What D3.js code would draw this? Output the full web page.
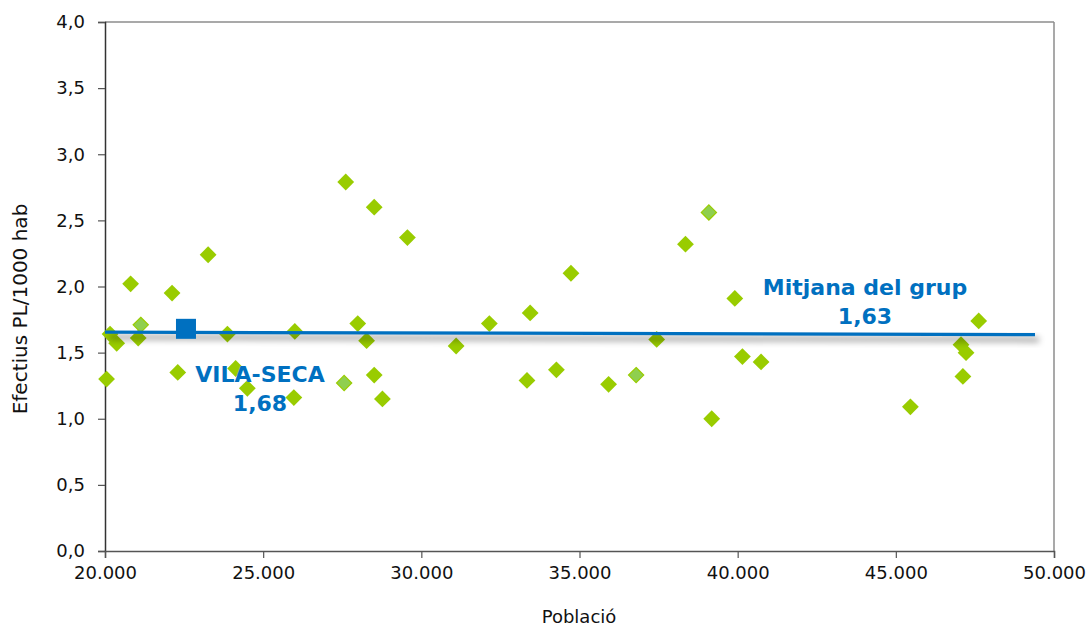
<!DOCTYPE html>
<html>
<head>
<meta charset="utf-8">
<script src="https://cdn.jsdelivr.net/npm/d3@7"></script>
<style>
  html, body { margin: 0; padding: 0; background: #fff; }
  svg { display: block; font-family: "DejaVu Sans", Verdana, sans-serif; }
</style>
</head>
<body>
<svg id="chart" width="1088" height="627"></svg>
<script>
// ---- Data ----
const municipalities = [
  [20050, 1.30], [20160, 1.64], [20370, 1.57], [20810, 2.02], [21050, 1.61],
  [22120, 1.95], [22300, 1.35], [23260, 2.24], [23870, 1.64], [24130, 1.38],
  [24500, 1.23], [26000, 1.66], [25970, 1.16], [27610, 2.79], [27990, 1.72],
  [28270, 1.59], [28510, 2.60], [28510, 1.33], [28770, 1.15], [29560, 2.37],
  [31100, 1.55], [32150, 1.72], [33340, 1.29], [33440, 1.80], [34270, 1.37],
  [34730, 2.10], [35920, 1.26], [37440, 1.60], [38350, 2.32], [39910, 1.91],
  [40150, 1.47], [40740, 1.43], [39180, 1.00], [45460, 1.09], [47060, 1.56],
  [47220, 1.50], [47120, 1.32], [47620, 1.74]
];
const municipalitiesLight = [
  [21130, 1.71], [27560, 1.27], [36790, 1.33], [39090, 2.56]
];
const vilaSeca = [[22560, 1.68]];
const meanLine = [[20000, 1.655], [49400, 1.636]];
const xTicks = [20000, 25000, 30000, 35000, 40000, 45000, 50000];
const yTicks = [0, 0.5, 1.0, 1.5, 2.0, 2.5, 3.0, 3.5, 4.0];
const labels = {
  x: "Població",
  y: "Efectius PL/1000 hab",
  vila: ["VILA-SECA", "1,68"],
  mean: ["Mitjana del grup", "1,63"]
};

// ---- Layout ----
const svg = d3.select("#chart");
const L = 105, R = 1054, T = 22, B = 551;
const x = d3.scaleLinear().domain([20000, 50000]).range([L, R]);
const y = d3.scaleLinear().domain([0, 4]).range([B, T]);

const fmtX = d => d3.format(",")(d).replace(/,/g, ".");
const fmtY = d => d.toFixed(1).replace(".", ",");

// shadow filter
const defs = svg.append("defs");
const f = defs.append("filter").attr("id", "shadow")
  .attr("x", "-5%").attr("y", "-200%").attr("width", "110%").attr("height", "600%");
f.append("feGaussianBlur").attr("stdDeviation", 3);

// plot border (top/right grey)
svg.append("line").attr("x1", L).attr("x2", R).attr("y1", T).attr("y2", T)
  .attr("stroke", "#8c8c8c").attr("stroke-width", 1.5);
svg.append("line").attr("x1", R).attr("x2", R).attr("y1", T).attr("y2", B)
  .attr("stroke", "#8c8c8c").attr("stroke-width", 1.5);

// axes
const yAxis = svg.append("g").attr("transform", `translate(${L},0)`)
  .call(d3.axisLeft(y).tickValues(yTicks).tickFormat(fmtY).tickSize(7).tickPadding(13));
const xAxis = svg.append("g").attr("transform", `translate(0,${B})`)
  .call(d3.axisBottom(x).tickValues(xTicks).tickFormat(fmtX).tickSize(7).tickPadding(8));
[yAxis, xAxis].forEach(g => {
  g.selectAll("text").attr("font-size", 18).attr("fill", "#111")
    .attr("font-family", "DejaVu Sans, Verdana, sans-serif");
  g.select(".domain").attr("stroke", "#333").attr("stroke-width", 1.5);
  g.selectAll(".tick line").attr("stroke", "#555").attr("stroke-width", 1.2);
});
xAxis.select(".domain").attr("stroke", "#555");

// axis titles
svg.append("text").attr("transform", `translate(27,${309}) rotate(-90)`)
  .attr("text-anchor", "middle").attr("font-size", 20).attr("fill", "#111")
  .text(labels.y);
svg.append("text").attr("x", 579).attr("y", 623).attr("text-anchor", "middle")
  .attr("font-size", 18).attr("fill", "#111").text(labels.x);

// diamonds
const dia = h => `M0,${-h}L${h},0L0,${h}L${-h},0Z`;
svg.append("g").selectAll("path").data(municipalities).join("path")
  .attr("d", dia(8.4))
  .attr("transform", d => `translate(${x(d[0])},${y(d[1])})`)
  .attr("fill", "#99cc00");
svg.append("g").selectAll("path").data(municipalitiesLight).join("path")
  .attr("d", dia(7.6))
  .attr("transform", d => `translate(${x(d[0])},${y(d[1])})`)
  .attr("fill", "#8fcf4f").attr("stroke", "#99cc00").attr("stroke-width", 1.2);

// mean line with shadow
const line = d3.line().x(d => x(d[0])).y(d => y(d[1]));
svg.append("path").datum(meanLine).attr("d", line)
  .attr("transform", "translate(4,5)")
  .attr("stroke", "#000").attr("stroke-opacity", 0.35).attr("stroke-width", 5)
  .attr("fill", "none").attr("filter", "url(#shadow)");
svg.append("path").datum(meanLine).attr("d", line)
  .attr("stroke", "#0070c0").attr("stroke-width", 3.2).attr("fill", "none");

// VILA-SECA square
svg.append("g").selectAll("rect").data(vilaSeca).join("rect")
  .attr("x", d => x(d[0]) - 10).attr("y", d => y(d[1]) - 10)
  .attr("width", 20).attr("height", 20).attr("fill", "#0070c0");

// labels
const lab = (lines, cx, y0) => {
  lines.forEach((t, i) => {
    svg.append("text").attr("x", cx).attr("y", y0 + i * 28.5)
      .attr("text-anchor", "middle").attr("font-size", 22).attr("font-weight", "bold")
      .attr("fill", "#0070c0").text(t);
  });
};
lab(labels.vila, 260, 382);
lab(labels.mean, 865, 295);
</script>
</body>
</html>
